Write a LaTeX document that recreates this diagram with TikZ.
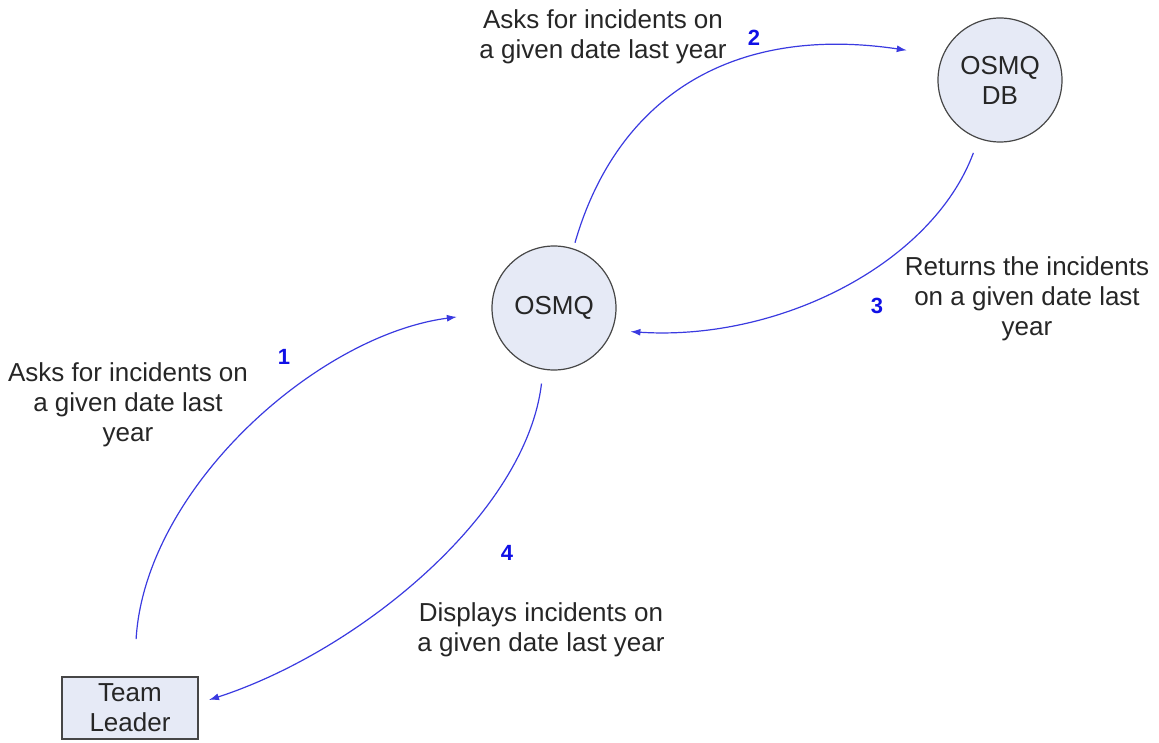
\documentclass[tikz,border=0pt]{standalone}
\usepackage{fontspec}
\setmainfont{Liberation Sans}
\usetikzlibrary{arrows.meta}
\definecolor{nodefill}{RGB}{230,234,246}
\definecolor{nodeline}{RGB}{70,70,70}
\definecolor{flowblue}{RGB}{58,58,224}
\definecolor{stepblue}{RGB}{16,16,230}
\definecolor{labelgray}{RGB}{38,38,38}
\begin{document}
\begin{tikzpicture}[x=1pt,y=-1pt,
  every node/.style={font=\fontsize{26}{30}\selectfont, text=labelgray},
  process/.style={circle, draw=nodeline, fill=nodefill, line width=1.2pt,
    minimum size=124pt, inner sep=0pt, align=center},
  actor/.style={rectangle, draw=nodeline, fill=nodefill, line width=2pt,
    minimum width=136pt, minimum height=62pt, inner sep=0pt, align=center},
  caption/.style={align=center, inner sep=0pt},
  stepno/.style={font=\fontsize{22}{24}\selectfont\bfseries, text=stepblue, inner sep=0pt},
  flow/.style={draw=flowblue, line width=1.2pt, -{Latex[length=10pt,width=7pt]}}]
\useasboundingbox (0,0) rectangle (1159,743);

% processes and the external actor
\node[process] (osmq) at (554,308) {OSMQ};
\node[process] (db) at (1000,80) {OSMQ\\DB};
\node[actor] (tl) at (130,708) {Team\\Leader};

% data flow descriptions
\node[caption] (c1) at (128,405) {Asks for incidents on\\a given date last\\year};
\node[caption] (c2) at (603,37) {Asks for incidents on\\a given date last year};
\node[caption] (c3) at (1027,299) {Returns the incidents\\on a given date last\\year};
\node[caption] (c4) at (541,630) {Displays incidents on\\a given date last year};

% step numbers
\node[stepno] (n1) at (284,357) {1};
\node[stepno] (n2) at (754,38) {2};
\node[stepno] (n3) at (877,306) {3};
\node[stepno] (n4) at (507,553) {4};

% data flows
\draw[flow, shorten <=37pt, shorten >=35pt] (tl.83) .. controls +(11,-187) and +(-175,23) .. (osmq.184);
\draw[flow, shorten <=6pt, shorten >=36pt] (osmq.72) .. controls +(42,-146) and +(-216,-32) .. (db.157);
\draw[flow, shorten <=15pt, shorten >=18pt] (db.250) .. controls +(-46,124) and +(168,11) .. (osmq.339);
\draw[flow, shorten <=14pt, shorten >=10.5pt] (osmq.260) .. controls +(-17,144) and +(160,-52) .. (tl.4);
\end{tikzpicture}
\end{document}
